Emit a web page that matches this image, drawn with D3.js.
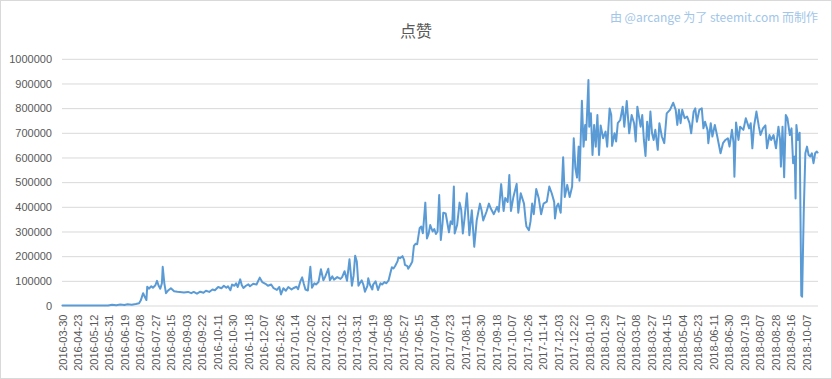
<!DOCTYPE html>
<html>
<head>
<meta charset="utf-8">
<script src="https://cdn.jsdelivr.net/npm/d3@7/dist/d3.min.js"></script>
<style>
  html, body { margin: 0; padding: 0; background: #fff; }
  svg { display: block; }
</style>
</head>
<body>
<svg id="chart" width="832" height="379"></svg>
<script>
// ---- data ----
const title = "点赞";
const credit = "由 @arcange 为了 steemit.com 而制作";
const categoryCount = 927;   // number of daily categories on the x axis
const tickEvery = 19;        // a label every 19 categories
const tickLabels = [
  "2016-03-30","2016-04-23","2016-05-12","2016-05-31","2016-06-19","2016-07-08","2016-07-27",
  "2016-08-15","2016-09-03","2016-09-22","2016-10-11","2016-10-30","2016-11-18","2016-12-07",
  "2016-12-26","2017-01-14","2017-02-02","2017-02-21","2017-03-12","2017-03-31","2017-04-19",
  "2017-05-08","2017-05-27","2017-06-15","2017-07-04","2017-07-23","2017-08-11","2017-08-30",
  "2017-09-18","2017-10-07","2017-10-26","2017-11-14","2017-12-03","2017-12-22","2018-01-10",
  "2018-01-29","2018-02-17","2018-03-08","2018-03-27","2018-04-15","2018-05-04","2018-05-23",
  "2018-06-11","2018-06-30","2018-07-19","2018-08-07","2018-08-28","2018-09-16","2018-10-07"
];
const yTicks = [0,100000,200000,300000,400000,500000,600000,700000,800000,900000,1000000];

// category index of each sampled point
const pointIndex = [
  0,56,61,66,71,76,80,85,90,94,96,99,101,103,104,106,109,111,114,116,118,120,122,123,125,127,
  130,133,137,141,144,149,154,158,161,165,169,173,176,180,184,187,191,195,198,201,203,206,208,
  211,213,215,218,220,222,225,228,230,234,238,242,245,249,252,256,259,263,266,268,271,274,277,
  281,283,287,289,292,294,296,298,301,304,306,309,311,314,317,320,322,326,328,331,333,337,341,
  343,346,349,352,355,357,359,361,363,365,367,369,371,374,375,377,380,381,384,387,390,392,395,
  397,400,402,404,406,408,411,412,414,417,419,420,423,424,427,429,431,433,435,438,440,442,445,
  447,449,451,454,456,458,460,462,464,466,467,470,474,476,478,480,481,484,487,489,491,493,496,
  499,502,505,508,512,514,516,520,523,525,529,533,535,538,541,543,546,548,550,553,557,559,562,
  566,568,569,572,574,576,578,581,584,587,590,594,597,600,603,604,606,608,611,614,616,619,622,
  625,627,629,631,633,634,637,639,641,642,645,646,648,650,652,654,656,658,660,663,666,668,671,
  673,674,677,679,681,684,687,689,692,695,698,701,703,705,709,711,713,715,717,719,721,723,725,
  727,730,732,735,738,741,745,749,752,754,756,758,760,763,766,769,771,774,776,778,781,784,786,
  788,791,792,795,797,800,803,807,810,813,816,818,821,823,824,826,829,831,835,838,842,844,846,
  848,851,854,856,859,862,864,867,869,872,875,878,880,881,883,885,887,889,892,894,896,898,899,
  900,902,904,906,907,909,911,913,915,917,919,921,923,925,926
];
// likes (点赞) at each sampled point
const likes = [
  0,0,3000,1000,4000,2000,5000,3000,6000,9000,20000,50000,35000,22000,76000,68000,78000,72000,
  82000,100000,80000,68000,90000,157000,90000,50000,
  62000,70000,58000,56000,55000,53000,55000,50000,55000,48000,56000,52000,60000,55000,65000,
  62000,75000,70000,80000,72000,78000,62000,85000,
  80000,90000,75000,106000,82000,71000,80000,86000,78000,88000,85000,113000,95000,88000,80000,
  85000,70000,63000,75000,45000,70000,60000,75000,
  65000,70000,76000,66000,100000,114000,88000,65000,61000,157000,72000,90000,85000,95000,147000,
  102000,115000,149000,102000,118000,105000,115000,108000,
  115000,139000,100000,187000,80000,120000,202000,178000,80000,92000,102000,85000,56000,80000,
  110000,85000,65000,85000,98000,63000,90000,85000,95000,
  90000,102000,130000,155000,150000,160000,180000,195000,192000,200000,185000,165000,160000,
  149000,165000,178000,242000,250000,248000,313000,320000,293000,417000,
  272000,290000,326000,300000,310000,290000,300000,448000,266000,330000,376000,373000,297000,
  341000,330000,482000,292000,326000,417000,388000,292000,350000,455000,
  285000,386000,238000,345000,413000,385000,345000,380000,413000,395000,370000,400000,380000,
  492000,383000,436000,420000,529000,383000,440000,493000,376000,455000,
  413000,345000,320000,305000,341000,413000,370000,472000,436000,370000,413000,421000,482000,
  455000,420000,353000,400000,413000,376000,601000,440000,489000,440000,
  482000,678000,557000,519000,644000,506000,830000,644000,732000,671000,914000,725000,779000,
  610000,732000,644000,772000,610000,730000,678000,705000,644000,799000,
  772000,647000,698000,665000,739000,752000,806000,725000,829000,698000,772000,739000,665000,
  806000,725000,772000,671000,606000,745000,671000,786000,698000,671000,
  712000,631000,739000,685000,658000,779000,793000,822000,793000,732000,793000,739000,793000,
  759000,766000,739000,698000,786000,799000,745000,793000,799000,718000,
  745000,712000,658000,739000,685000,732000,685000,617000,658000,671000,678000,644000,712000,
  658000,522000,742000,671000,725000,712000,759000,718000,739000,637000,
  725000,786000,725000,691000,718000,730000,637000,691000,671000,691000,637000,725000,671000,
  563000,725000,520000,772000,759000,691000,718000,577000,604000,434000,
  732000,671000,700000,40000,36000,374000,617000,644000,610000,604000,617000,577000,617000,
  624000,620000
];

// ---- layout ----
const W = 832, H = 379;
const plot = { left: 62, right: 818, top: 58.8, bottom: 305.5 };
const svg = d3.select("#chart");

svg.append("rect")
  .attr("x", 0.5).attr("y", 0.5).attr("width", W - 1).attr("height", H - 1)
  .attr("fill", "#fff").attr("stroke", "#d9d9d9");

const x = d3.scaleLinear().domain([0, categoryCount]).range([plot.left, plot.right]);
const y = d3.scaleLinear().domain([0, 1000000]).range([plot.bottom, plot.top]);

// gridlines + y labels
const yAxis = d3.axisLeft(y).tickValues(yTicks).tickSize(-(plot.right - plot.left)).tickPadding(10)
  .tickFormat(d3.format("d"));
const gy = svg.append("g").attr("transform", `translate(${plot.left},0)`).call(yAxis);
gy.select(".domain").remove();
gy.selectAll(".tick line").attr("stroke", "#d9d9d9").attr("stroke-width", 1);
gy.selectAll(".tick text")
  .attr("fill", "#595959")
  .style("font-family", "'Liberation Sans', Arial, sans-serif")
  .style("font-size", "11px");

// x labels
const tickIdx = tickLabels.map((_, i) => i * tickEvery);
const xAxis = d3.axisBottom(x)
  .tickValues(tickIdx.map(i => i + 0.5))
  .tickSize(0)
  .tickFormat((d, i) => tickLabels[i]);
const gx = svg.append("g").attr("transform", `translate(0,${plot.bottom})`).call(xAxis);
gx.select(".domain").remove();
gx.selectAll(".tick text")
  .attr("fill", "#595959")
  .style("font-family", "'Liberation Sans', Arial, sans-serif")
  .style("font-size", "11px")
  .attr("text-anchor", "end")
  .attr("transform", "rotate(-90)")
  .attr("x", -9)
  .attr("y", 0)
  .attr("dy", "0.35em");

// line
const pts = pointIndex.map((idx, i) => ({ idx, v: likes[i] }));
const line = d3.line().x(d => x(d.idx + 0.5)).y(d => y(d.v));
svg.append("path")
  .datum(pts)
  .attr("fill", "none")
  .attr("stroke", "#5b9bd5")
  .attr("stroke-width", 2)
  .attr("stroke-linejoin", "round")
  .attr("stroke-linecap", "round")
  .attr("d", line);

// title
svg.append("text")
  .attr("x", W / 2).attr("y", 37)
  .attr("text-anchor", "middle")
  .attr("fill", "#595959")
  .style("font-family", "'Noto Sans CJK SC', sans-serif")
  .style("font-size", "16px")
  .text(title);

// credit
svg.append("text")
  .attr("x", 818).attr("y", 22)
  .attr("text-anchor", "end")
  .attr("fill", "#a2c6e8")
  .style("font-family", "'Noto Sans CJK SC', 'Liberation Sans', sans-serif")
  .style("font-size", "12px")
  .text(credit);
</script>
</body>
</html>
